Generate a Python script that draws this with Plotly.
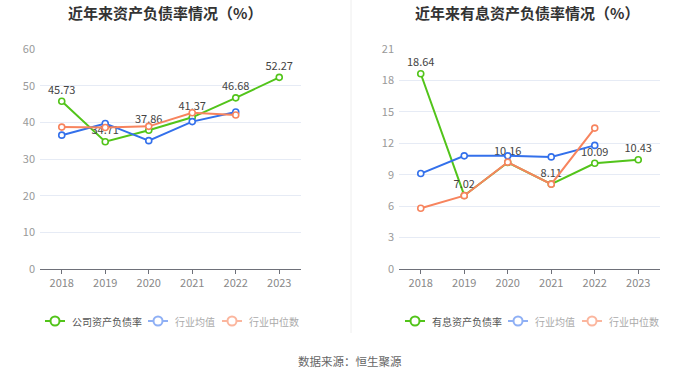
import plotly.graph_objects as go

years = ["2018", "2019", "2020", "2021", "2022", "2023"]

# Left chart: 资产负债率
company_debt = [45.73, 34.71, 37.86, 41.37, 46.68, 52.27]
industry_avg_debt = [36.5, 39.7, 35.0, 40.2, 42.8]
industry_med_debt = [38.7, 38.6, 38.9, 42.6, 42.0]

# Right chart: 有息资产负债率
company_int = [18.64, 7.02, 10.16, 8.11, 10.09, 10.43]
industry_avg_int = [9.11, 10.8, 10.8, 10.7, 11.8]
industry_med_int = [5.8, 7.0, 10.2, 8.1, 13.45]

titles = ["近年来资产负债率情况（%）", "近年来有息资产负债率情况（%）"]
legend_left = ["公司资产负债率", "行业均值", "行业中位数"]
legend_right = ["有息资产负债率", "行业均值", "行业中位数"]
source_text = "数据来源：恒生聚源"

GREEN = "#52c41a"
BLUE = "#3370eb"
ORANGE = "#f7845e"
BLUE_L = "#8fb0f5"
ORANGE_L = "#fbb69e"
FONT = "Noto Sans CJK SC"

W, H = 700, 378


def px(x):
    return x / W


def py(y):
    return (H - y) / H


fig = go.Figure()


def add_series(x, y, color, xa, ya, text=None):
    fig.add_trace(go.Scatter(
        x=x, y=y, xaxis=xa, yaxis=ya,
        mode="lines+markers+text" if text else "lines+markers",
        line=dict(color=color, width=2),
        marker=dict(color="white", size=6, line=dict(color=color, width=1.6)),
        text=text, textposition="top center",
        textfont=dict(family=FONT, size=11, color="#444"),
        showlegend=False, cliponaxis=False, hoverinfo="x+y",
    ))


# Left chart
add_series(years, company_debt, GREEN, "x", "y", [f"{v:.2f}" for v in company_debt])
add_series(years[:5], industry_avg_debt, BLUE, "x", "y")
add_series(years[:5], industry_med_debt, ORANGE, "x", "y")

# Right chart
add_series(years, company_int, GREEN, "x2", "y2", [f"{v:.2f}" for v in company_int])
add_series(years[:5], industry_avg_int, BLUE, "x2", "y2")
add_series(years[:5], industry_med_int, ORANGE, "x2", "y2")

shapes = [
    dict(type="line", xref="paper", yref="paper", x0=px(351), x1=px(351),
         y0=py(333), y1=py(0), line=dict(color="#eeeeee", width=1)),
]
annotations = [
    dict(text=f"<b>{titles[0]}</b>", x=px(165), y=py(12), xref="paper", yref="paper",
         showarrow=False, font=dict(family=FONT, size=15, color="#333"), xanchor="center", yanchor="middle"),
    dict(text=f"<b>{titles[1]}</b>", x=px(527), y=py(12), xref="paper", yref="paper",
         showarrow=False, font=dict(family=FONT, size=15, color="#333"), xanchor="center", yanchor="middle"),
    dict(text=source_text, x=0.5, y=py(361), xref="paper", yref="paper",
         showarrow=False, font=dict(family=FONT, size=11.5, color="#666"), xanchor="center", yanchor="middle"),
]

# Custom legends (icon line + open circle + text)
legend_items = [
    (legend_left[0], GREEN, "#555", 45),
    (legend_left[1], BLUE_L, "#aaa", 148),
    (legend_left[2], ORANGE_L, "#aaa", 222),
    (legend_right[0], GREEN, "#555", 405),
    (legend_right[1], BLUE_L, "#aaa", 508),
    (legend_right[2], ORANGE_L, "#aaa", 582),
]
LY = 321
for name, col, tcol, x0 in legend_items:
    shapes.append(dict(type="line", xref="paper", yref="paper",
                       x0=px(x0), x1=px(x0 + 20), y0=py(LY), y1=py(LY),
                       line=dict(color=col, width=2)))
    shapes.append(dict(type="circle", xref="paper", yref="paper",
                       x0=px(x0 + 10 - 4.5), x1=px(x0 + 10 + 4.5),
                       y0=py(LY + 4.5), y1=py(LY - 4.5),
                       fillcolor="white", line=dict(color=col, width=2)))
    annotations.append(dict(text=name, x=px(x0 + 25), y=py(LY), xref="paper", yref="paper",
                            showarrow=False, xanchor="left", yanchor="middle",
                            font=dict(family=FONT, size=10, color=tcol)))

y_dom = [py(269), py(49)]

xaxis_common = dict(
    type="category", categoryorder="array", categoryarray=years,
    range=[-0.5, 5.5], showgrid=False, showline=True, linecolor="#6e7079",
    linewidth=1, ticks="outside", ticklen=4, tickcolor="#6e7079",
    tickfont=dict(family=FONT, size=11, color="#888"), zeroline=False,
    fixedrange=True, automargin=False,
)
yaxis_common = dict(
    showgrid=True, gridcolor="#e6ebf5", gridwidth=1, zeroline=False,
    showline=False, ticks="", tickfont=dict(family=FONT, size=11, color="#999"),
    domain=y_dom, fixedrange=True, automargin=False, ticklabelstandoff=4,
)

fig.update_layout(
    width=W, height=H,
    margin=dict(l=0, r=0, t=0, b=0, autoexpand=False),
    paper_bgcolor="white", plot_bgcolor="white",
    font=dict(family=FONT),
    showlegend=False,
    xaxis=dict(xaxis_common, domain=[px(40), px(301)], anchor="y"),
    yaxis=dict(yaxis_common, range=[0, 60], dtick=10, tick0=0, anchor="x"),
    xaxis2=dict(xaxis_common, domain=[px(399), px(660)], anchor="y2"),
    yaxis2=dict(yaxis_common, range=[0, 21], dtick=3, tick0=0, anchor="x2"),
    annotations=annotations,
    shapes=shapes,
)

fig.write_html(
    "out.html",
    post_script="document.body.style.margin='0';document.body.style.padding='0';",
    config={"displayModeBar": False},
)
